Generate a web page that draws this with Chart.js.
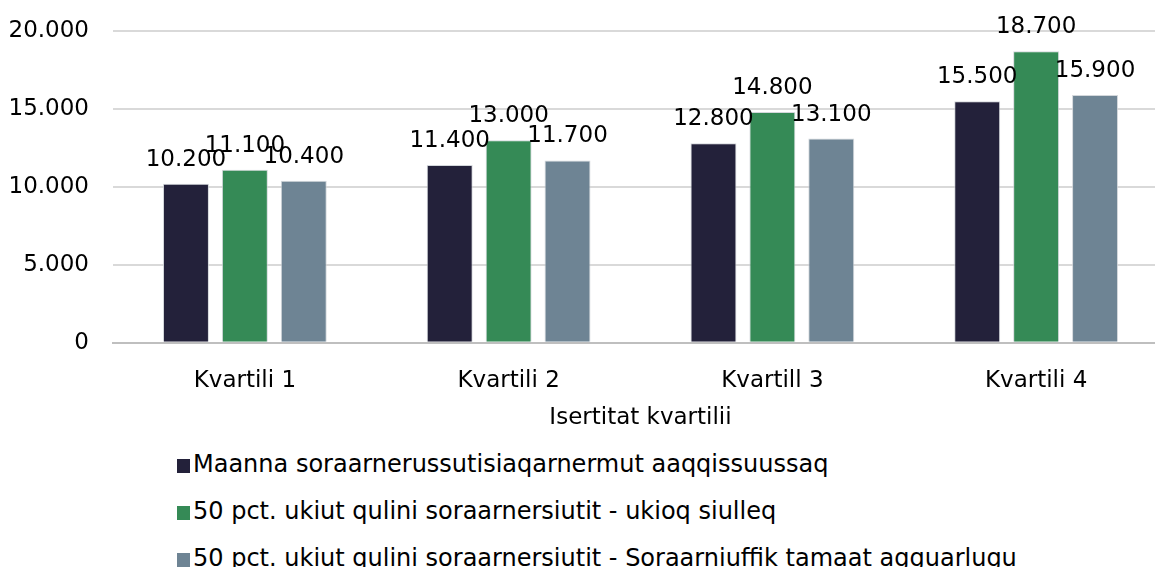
<!DOCTYPE html>
<html lang="kl">
<head>
    <meta charset="UTF-8">
    <title>Isertitat kvartilii</title>
    <style>
        html, body { margin: 0; padding: 0; background: #fff; overflow: hidden; }
        body { width: 1155px; height: 567px; font-family: "DejaVu Sans", sans-serif; position: relative; }
        .chart-box { position: absolute; left: 0; top: 0; width: 1170px; height: 432px; }
        .legend { position: absolute; left: 177px; top: 441px; list-style: none; margin: 0; padding: 0; }
        .legend li { height: 47px; line-height: 47px; font-size: 24px; color: #000; white-space: nowrap; }
        .legend span { display: inline-block; width: 13px; height: 14px; margin-right: 3px; vertical-align: -1px; }
    </style>
</head>
<body>
    <div class="chart-box">
        <canvas id="myChart"></canvas>
    </div>
    <ul class="legend" id="legend"></ul>

    <script src="https://cdn.jsdelivr.net/npm/chart.js"></script>
    <script>
        // data
        var categories = ['Kvartili 1', 'Kvartili 2', 'Kvartill 3', 'Kvartili 4'];
        var seriesNames = [
            'Maanna soraarnerussutisiaqarnermut aaqqissuussaq',
            '50 pct. ukiut qulini soraarnersiutit - ukioq siulleq',
            '50 pct. ukiut qulini soraarnersiutit - Soraarniuffik tamaat agguarlugu'
        ];
        var currentScheme = [10200, 11400, 12800, 15500];
        var firstYear = [11100, 13000, 14800, 18700];
        var spreadOut = [10400, 11700, 13100, 15900];
        var yTicks = [0, 5000, 10000, 15000, 20000];

        var colors = ['#23213a', '#358a56', '#6e8494'];

        function fmt(v) {
            return v.toString().replace(/\B(?=(\d{3})+(?!\d))/g, '.');
        }

        // draws the value above every bar
        var valueLabels = {
            id: 'valueLabels',
            afterDatasetsDraw: function(chart) {
                var ctx = chart.ctx;
                ctx.save();
                ctx.font = '23px "DejaVu Sans", sans-serif';
                ctx.fillStyle = '#000';
                ctx.textAlign = 'center';
                ctx.textBaseline = 'alphabetic';
                chart.data.datasets.forEach(function(ds, i) {
                    chart.getDatasetMeta(i).data.forEach(function(bar, j) {
                        ctx.fillText(fmt(ds.data[j]), bar.x, bar.y - 18);
                    });
                });
                ctx.restore();
            }
        };

        var values = [currentScheme, firstYear, spreadOut];
        var datasets = values.map(function(v, i) {
            return {
                label: seriesNames[i],
                data: v,
                backgroundColor: colors[i],
                borderColor: 'rgba(200,205,210,0.8)',
                borderWidth: 1,
                categoryPercentage: 0.67,
                barPercentage: 0.78
            };
        });

        Chart.defaults.font.family = '"DejaVu Sans", sans-serif';
        Chart.defaults.font.size = 23;
        Chart.defaults.color = '#000';

        var chart = new Chart(document.getElementById('myChart'), {
            type: 'bar',
            data: { labels: categories, datasets: datasets },
            options: {
                responsive: true,
                maintainAspectRatio: false,
                animation: false,
                layout: { padding: { top: 31, left: 8, right: 2, bottom: 0 } },
                plugins: {
                    legend: { display: false },
                    tooltip: { enabled: false }
                },
                scales: {
                    x: {
                        grid: { display: false },
                        border: { color: '#bfbfbf', width: 2 },
                        ticks: { padding: 16 },
                        title: {
                            display: true,
                            text: 'Isertitat kvartilii',
                            padding: { top: -6, bottom: 0 }
                        }
                    },
                    y: {
                        min: 0,
                        max: 20000,
                        afterBuildTicks: function(axis) {
                            axis.ticks = yTicks.map(function(v) { return { value: v }; });
                        },
                        afterFit: function(axis) {
                            axis.width = 105;
                            axis.paddingTop = 0;
                            axis.paddingBottom = 0;
                        },
                        grid: { color: '#d9d9d9', lineWidth: 2, drawTicks: false },
                        border: { display: false },
                        ticks: {
                            padding: 24,
                            callback: function(v) { return fmt(v); }
                        }
                    }
                }
            },
            plugins: [valueLabels]
        });

        // legend as a list under the chart
        var legend = document.getElementById('legend');
        seriesNames.forEach(function(name, i) {
            var li = document.createElement('li');
            li.innerHTML = '<span style="background:' + colors[i] + '"></span>' + name;
            legend.appendChild(li);
        });
    </script>
</body>
</html>
